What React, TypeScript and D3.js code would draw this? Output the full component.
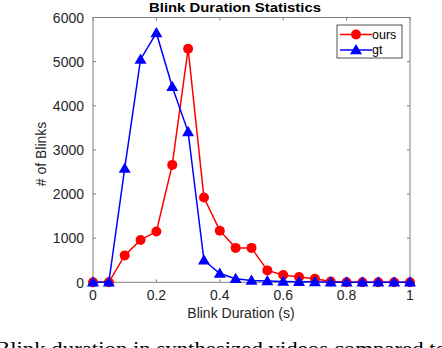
import React from "react";
import * as d3 from "d3";

const durations = [0, 0.05, 0.1, 0.15, 0.2, 0.25, 0.3, 0.35, 0.4, 0.45, 0.5, 0.55, 0.6, 0.65, 0.7, 0.75, 0.8, 0.85, 0.9, 0.95, 1.0];
const oursValues = [0, 0, 610, 960, 1150, 2660, 5290, 1920, 1170, 780, 780, 270, 165, 120, 80, 20, 0, 0, 0, 0, 0];
const gtValues = [0, 0, 2580, 5050, 5650, 4430, 3410, 500, 200, 80, 40, 30, 20, 15, 10, 0, 0, 0, 0, 0, 0];
const xTicks = [0, 0.2, 0.4, 0.6, 0.8, 1];
const yTicks = [0, 1000, 2000, 3000, 4000, 5000, 6000];
const seriesNames = ["ours", "gt"];

const W = 442, H = 348;
const left = 93, right = 410, top = 17.5, bottom = 282.3;
const font = "'Liberation Sans', Arial, Helvetica, sans-serif";

export default function App() {
  const x = d3.scaleLinear().domain([0, 1]).range([left, right]);
  const y = d3.scaleLinear().domain([0, 6000]).range([bottom, top]);
  const line = d3.line<number>().x((_, i) => x(durations[i])).y((d) => y(d));
  const tri = (cx: number, cy: number, s = 6) =>
    `M${cx},${cy - s} L${cx + s * 1.0},${cy + s * 0.72} L${cx - s * 1.0},${cy + s * 0.72} Z`;
  const tickCol = "#262626";
  const axisCol = "#808080";
  return (
    <svg width={W} height={H} style={{ position: "absolute", left: 0, top: 0, display: "block" }}>
      <rect x={0} y={0} width={W} height={H} fill="#fff" />
      <text x={235} y={11.8} textAnchor="middle" fontFamily={font} fontWeight="bold" fontSize={13.5} textLength={172} lengthAdjust="spacingAndGlyphs" fill="#000">
        Blink Duration Statistics
      </text>
      {/* axes box */}
      <rect x={left} y={top} width={right - left} height={bottom - top} fill="none" stroke={axisCol} strokeWidth={1} />
      {yTicks.map((t) => (
        <g key={"y" + t}>
          <line x1={left} x2={left + 3} y1={y(t)} y2={y(t)} stroke={axisCol} />
          <line x1={right} x2={right - 3} y1={y(t)} y2={y(t)} stroke={axisCol} />
          <text x={84} y={y(t) + 5.3} textAnchor="end" fontFamily={font} fontSize={14} fill={tickCol}>
            {t}
          </text>
        </g>
      ))}
      {xTicks.map((t) => (
        <g key={"x" + t}>
          <line x1={x(t)} x2={x(t)} y1={bottom} y2={bottom - 3} stroke={axisCol} />
          <line x1={x(t)} x2={x(t)} y1={top} y2={top + 3} stroke={axisCol} />
          <text x={x(t)} y={300} textAnchor="middle" fontFamily={font} fontSize={14} fill={tickCol}>
            {t}
          </text>
        </g>
      ))}
      <text x={241} y={318} textAnchor="middle" fontFamily={font} fontSize={14} fill={tickCol}>
        Blink Duration (s)
      </text>
      <text transform={`translate(46,154) rotate(-90)`} textAnchor="middle" fontFamily={font} fontSize={14} fill={tickCol}>
        # of Blinks
      </text>
      {/* series */}
      <path d={line(oursValues) || ""} fill="none" stroke="#ff0000" strokeWidth={1.5} />
      {oursValues.map((v, i) => (
        <circle key={"o" + i} cx={x(durations[i])} cy={y(v)} r={5} fill="#ff0000" />
      ))}
      <path d={line(gtValues) || ""} fill="none" stroke="#0000ff" strokeWidth={1.5} />
      {gtValues.map((v, i) => (
        <path key={"g" + i} d={tri(x(durations[i]), y(v))} fill="#0000ff" />
      ))}
      {/* legend */}
      <rect x={337} y={25} width={65} height={33} fill="#fff" stroke="#262626" strokeWidth={0.8} />
      <line x1={340} x2={372} y1={34.5} y2={34.5} stroke="#ff0000" strokeWidth={1.5} />
      <circle cx={356} cy={34.5} r={5} fill="#ff0000" />
      <text x={372} y={39} fontFamily={font} fontSize={12.5} fill="#000">{seriesNames[0]}</text>
      <line x1={340} x2={372} y1={50} y2={50} stroke="#0000ff" strokeWidth={1.5} />
      <path d={tri(356, 50)} fill="#0000ff" />
      <text x={372} y={54} fontFamily={font} fontSize={12.5} fill="#000">{seriesNames[1]}</text>
      {/* cropped caption */}
      <text x={-5} y={355} fontFamily="'Liberation Serif', 'Times New Roman', serif" fontSize={19} textLength={452} lengthAdjust="spacingAndGlyphs" fill="#000">
        Blink duration in synthesized videos compared to
      </text>
    </svg>
  );
}
